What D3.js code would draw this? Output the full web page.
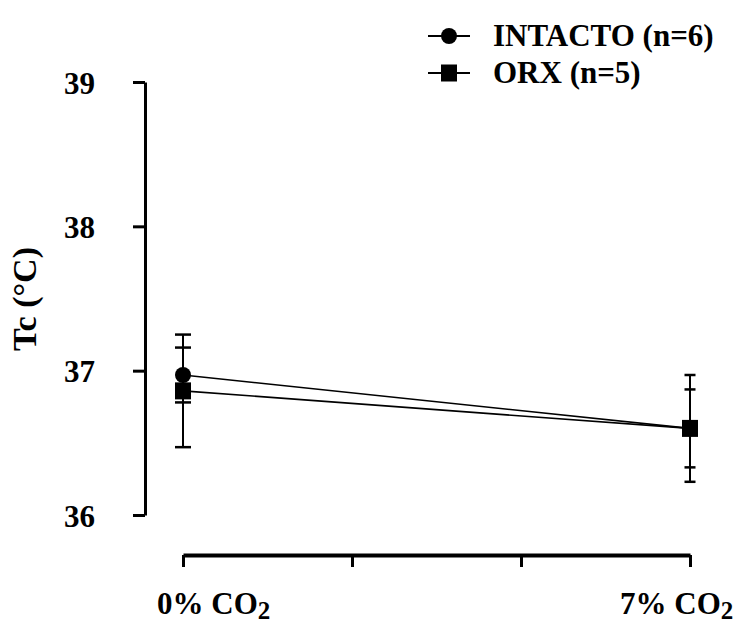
<!DOCTYPE html>
<html>
<head>
<meta charset="utf-8">
<script src="https://cdn.jsdelivr.net/npm/d3@7/dist/d3.min.js"></script>
<style>
  html, body { margin: 0; padding: 0; background: #fff; }
  svg { display: block; }
  text { font-family: "Liberation Serif", "Times New Roman", serif; font-weight: bold; fill: #000; }
</style>
</head>
<body>
<svg id="chart" width="736" height="624"></svg>
<script>
// Core body temperature under two CO2 conditions
const conditions = ["0% CO", "7% CO"];
const conditionPos = [0, 3];          // positions on the 4-tick x axis
const xTickValues = [0, 1, 2, 3];
const yTickValues = [36, 37, 38, 39];

const seriesNames = ["INTACTO (n=6)", "ORX (n=5)"];
const intactoMean = [36.97, 36.60];
const intactoErr  = [0.19, 0.27];
const orxMean     = [36.86, 36.60];
const orxErr      = [0.39, 0.37];

const series = [
  { name: seriesNames[0], mean: intactoMean, err: intactoErr, symbol: "circle" },
  { name: seriesNames[1], mean: orxMean, err: orxErr, symbol: "square" }
];

const svg = d3.select("#chart");

const x = d3.scaleLinear().domain([0, 3]).range([183, 690]);
const y = d3.scaleLinear().domain([36, 39]).range([515, 82]);

// Y axis
const yAxis = svg.append("g").attr("transform", "translate(145,0)")
  .call(d3.axisLeft(y).tickValues(yTickValues).tickSize(12).tickSizeOuter(0).tickFormat(d3.format("d")));
yAxis.select(".domain").attr("stroke", "#000").attr("stroke-width", 3);
yAxis.selectAll(".tick line").attr("stroke", "#000").attr("stroke-width", 3);
yAxis.selectAll(".tick text").attr("x", -50).attr("dy", "0.36em")
  .style("font-size", "31px").style("font-family", "Liberation Serif").style("font-weight", "bold");

// X axis
const xAxis = svg.append("g").attr("transform", "translate(0,555)")
  .call(d3.axisBottom(x).tickValues(xTickValues).tickSize(12).tickSizeOuter(0).tickFormat(""));
xAxis.select(".domain").attr("stroke", "#000").attr("stroke-width", 4);
xAxis.selectAll(".tick line").attr("stroke", "#000").attr("stroke-width", 3);

// X category labels with subscript
const labelOffsets = [-26, -70];
conditions.forEach((c, i) => {
  const t = svg.append("text")
    .attr("x", x(conditionPos[i]) + labelOffsets[i])
    .attr("y", 614)
    .style("font-size", "31px");
  t.append("tspan").text(c);
  t.append("tspan").attr("dy", 5).style("font-size", "25px").text("2");
});

// Y axis title
svg.append("text")
  .attr("transform", "translate(36,299) rotate(-90)")
  .attr("text-anchor", "middle")
  .style("font-size", "34px")
  .text("Tc (°C)");

// Lines, error bars, markers
const capHalf = [8, 5.5];
const line = d3.line().x((d, i) => x(conditionPos[i])).y(d => y(d));

series.forEach(s => {
  svg.append("path").datum(s.mean)
    .attr("d", line).attr("fill", "none")
    .attr("stroke", "#000").attr("stroke-width", 1.6);
});

series.forEach(s => {
  s.mean.forEach((m, i) => {
    const cx = x(conditionPos[i]);
    const top = y(m + s.err[i]);
    const bot = y(m - s.err[i]);
    svg.append("line").attr("x1", cx).attr("x2", cx).attr("y1", top).attr("y2", bot)
      .attr("stroke", "#000").attr("stroke-width", 2);
    [top, bot].forEach(yy => {
      svg.append("line").attr("x1", cx - capHalf[i]).attr("x2", cx + capHalf[i])
        .attr("y1", yy).attr("y2", yy).attr("stroke", "#000").attr("stroke-width", 2.5);
    });
  });
});

function drawMarker(g, symbol, cx, cy) {
  if (symbol === "circle") {
    g.append("circle").attr("cx", cx).attr("cy", cy).attr("r", 8).attr("fill", "#000");
  } else {
    g.append("rect").attr("x", cx - 8).attr("y", cy - 8.5).attr("width", 16).attr("height", 17).attr("fill", "#000");
  }
}

series.forEach(s => {
  s.mean.forEach((m, i) => drawMarker(svg, s.symbol, x(conditionPos[i]), y(m)));
});

// Legend
const legendRows = [36, 73];
series.forEach((s, i) => {
  const g = svg.append("g");
  g.append("line").attr("x1", 428).attr("x2", 470).attr("y1", legendRows[i]).attr("y2", legendRows[i])
    .attr("stroke", "#000").attr("stroke-width", 2);
  drawMarker(g, s.symbol, 449, legendRows[i]);
  g.append("text").attr("x", 493).attr("y", legendRows[i] + 10)
    .style("font-size", "31px").text(s.name);
});
</script>
</body>
</html>
